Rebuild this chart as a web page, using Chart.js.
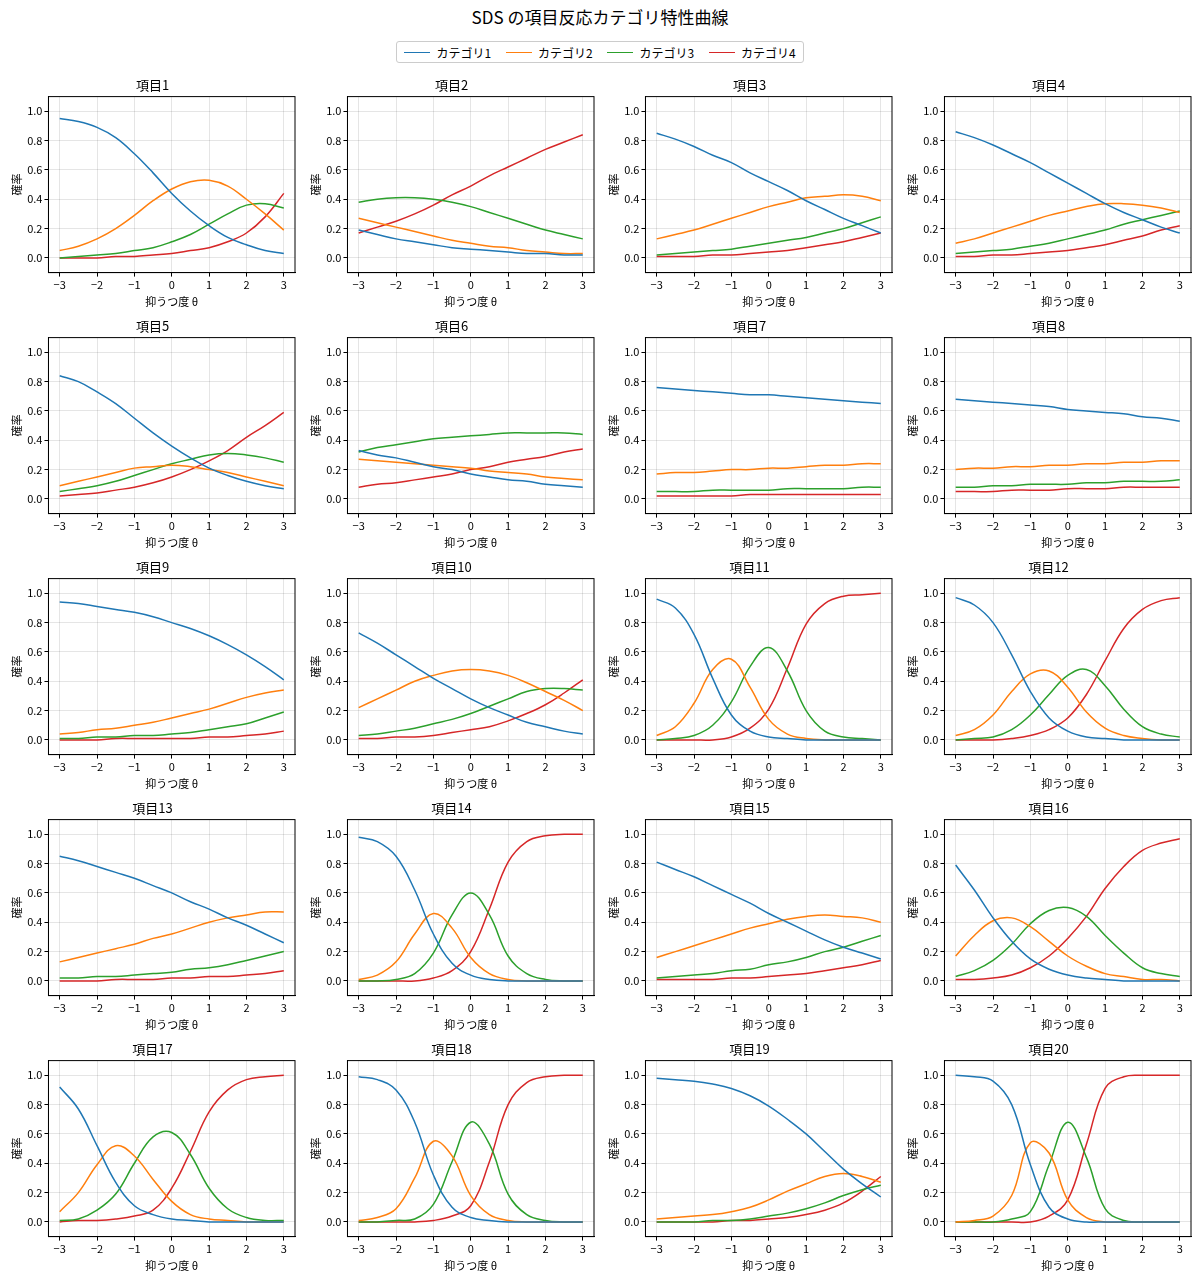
<!DOCTYPE html>
<html><head><meta charset="utf-8">
<script src="https://cdn.jsdelivr.net/npm/chart.js@4.4.1/dist/chart.umd.min.js"></script>
<style>
body{margin:0;background:#fff;font-family:"Noto Sans CJK JP","DejaVu Sans",sans-serif;}
#wrap{position:relative;width:1200px;height:1279px;}
#title{position:absolute;top:4px;left:0;width:1200px;text-align:center;font-size:17px;color:#000;}
#legend{position:absolute;top:41px;left:396px;width:406px;height:20px;border:1px solid #ccc;border-radius:3px;font-size:12px;display:flex;align-items:center;justify-content:space-around;}
#legend span{display:inline-flex;align-items:center;}
#legend i{display:inline-block;width:26px;height:0;border-top:1.6px solid;margin-right:6px;}
canvas{position:absolute;}
</style></head><body>
<div id="wrap">
<div id="title">SDS の項目反応カテゴリ特性曲線</div>
<div id="legend"></div>
</div>
<script>
const thetas = [-3,-2.5,-2,-1.5,-1,-0.5,0,0.5,1,1.5,2,2.5,3];
const categories = ["カテゴリ1","カテゴリ2","カテゴリ3","カテゴリ4"];
const colors = ["#1f77b4","#ff7f0e","#2ca02c","#d62728"];
const xTicks = [-3,-2,-1,0,1,2,3];
const yTicks = [0,0.2,0.4,0.6,0.8,1.0];

const item1 = [[.95,.93,.89,.82,.71,.58,.44,.32,.22,.14,.09,.05,.03],[.05,.08,.13,.20,.29,.39,.47,.52,.53,.49,.40,.30,.19],[0,.01,.02,.03,.05,.07,.11,.16,.23,.30,.36,.37,.34],[0,0,0,.01,.01,.02,.03,.05,.07,.11,.17,.28,.44]];
const item2 = [[.19,.16,.13,.11,.09,.07,.06,.05,.04,.03,.03,.02,.02],[.27,.24,.21,.18,.15,.12,.10,.08,.07,.05,.04,.03,.03],[.38,.40,.41,.41,.40,.38,.35,.31,.27,.23,.19,.16,.13],[.17,.21,.25,.30,.36,.43,.49,.56,.62,.68,.74,.79,.84]];
const item3 = [[.85,.81,.76,.70,.65,.58,.52,.46,.39,.33,.27,.22,.17],[.13,.16,.19,.23,.27,.31,.35,.38,.41,.42,.43,.42,.39],[.02,.03,.04,.05,.06,.08,.10,.12,.14,.17,.20,.24,.28],[.01,.01,.01,.02,.02,.03,.04,.05,.07,.09,.11,.14,.17]];
const item4 = [[.86,.82,.77,.71,.65,.58,.51,.44,.37,.31,.26,.21,.17],[.10,.13,.17,.21,.25,.29,.32,.35,.37,.37,.36,.34,.31],[.03,.04,.05,.06,.08,.10,.13,.16,.19,.23,.26,.29,.32],[.01,.01,.02,.02,.03,.04,.05,.07,.09,.12,.15,.19,.22]];
const item5 = [[.84,.80,.73,.65,.55,.45,.36,.28,.21,.16,.12,.09,.07],[.09,.12,.15,.18,.21,.22,.23,.22,.20,.18,.15,.12,.09],[.05,.07,.09,.12,.16,.20,.24,.27,.30,.31,.30,.28,.25],[.02,.03,.04,.06,.08,.11,.15,.20,.26,.33,.42,.50,.59]];
const item6 = [[.33,.30,.28,.25,.22,.20,.17,.15,.13,.12,.10,.09,.08],[.27,.26,.25,.24,.23,.22,.21,.19,.18,.17,.15,.14,.13],[.32,.35,.37,.39,.41,.42,.43,.44,.45,.45,.45,.45,.44],[.08,.10,.11,.13,.15,.17,.20,.22,.25,.27,.29,.32,.34]];
const item7 = [[.76,.75,.74,.73,.72,.71,.71,.70,.69,.68,.67,.66,.65],[.17,.18,.18,.19,.20,.20,.21,.21,.22,.23,.23,.24,.24],[.05,.05,.05,.06,.06,.06,.06,.07,.07,.07,.07,.08,.08],[.02,.02,.02,.02,.02,.03,.03,.03,.03,.03,.03,.03,.03]];
const item8 = [[.68,.67,.66,.65,.64,.63,.61,.60,.59,.58,.56,.55,.53],[.20,.21,.21,.22,.22,.23,.23,.24,.24,.25,.25,.26,.26],[.08,.08,.09,.09,.10,.10,.10,.11,.11,.12,.12,.12,.13],[.05,.05,.05,.06,.06,.06,.07,.07,.07,.08,.08,.08,.08]];
const item9 = [[.94,.93,.91,.89,.87,.84,.80,.76,.71,.65,.58,.50,.41],[.04,.05,.07,.08,.10,.12,.15,.18,.21,.25,.29,.32,.34],[.01,.01,.02,.02,.03,.03,.04,.05,.07,.09,.11,.15,.19],[0,0,0,.01,.01,.01,.01,.01,.02,.02,.03,.04,.06]];
const item10 = [[.73,.66,.58,.50,.42,.35,.28,.22,.17,.12,.09,.06,.04],[.22,.28,.34,.40,.44,.47,.48,.47,.44,.39,.33,.27,.20],[.03,.04,.06,.08,.11,.14,.18,.23,.28,.33,.35,.35,.34],[.01,.01,.02,.02,.03,.05,.07,.09,.13,.18,.24,.32,.41]];
const item11 = [[.96,.90,.72,.42,.17,.06,.02,.01,0,0,0,0,0],[.03,.09,.25,.48,.55,.36,.14,.04,.01,0,0,0,0],[0,.01,.03,.10,.26,.50,.63,.47,.20,.06,.02,.01,0],[0,0,0,0,.02,.08,.21,.49,.79,.93,.98,.99,1]];
const item12 = [[.97,.92,.80,.58,.33,.15,.06,.02,.01,0,0,0,0],[.03,.07,.17,.33,.45,.47,.36,.19,.08,.03,.01,0,0],[0,.01,.02,.07,.17,.31,.44,.48,.37,.21,.09,.04,.02],[0,0,0,.01,.03,.07,.15,.31,.54,.76,.89,.95,.97]];
const item13 = [[.85,.82,.78,.74,.70,.65,.60,.54,.49,.43,.38,.32,.26],[.13,.16,.19,.22,.25,.29,.32,.36,.40,.43,.45,.47,.47],[.02,.02,.03,.03,.04,.05,.06,.08,.09,.11,.14,.17,.20],[0,0,0,.01,.01,.01,.02,.02,.03,.03,.04,.05,.07]];
const item14 = [[.98,.95,.85,.62,.32,.12,.04,.01,0,0,0,0,0],[.01,.04,.13,.32,.46,.36,.16,.05,.01,0,0,0,0],[0,0,.01,.05,.19,.45,.60,.45,.17,.05,.01,0,0],[0,0,0,0,.02,.07,.20,.49,.81,.95,.99,1,1]];
const item15 = [[.81,.76,.71,.65,.59,.53,.46,.40,.34,.28,.23,.19,.15],[.16,.20,.24,.28,.32,.36,.39,.42,.44,.45,.44,.43,.40],[.02,.03,.04,.05,.07,.08,.11,.13,.16,.20,.23,.27,.31],[.01,.01,.01,.01,.02,.02,.03,.04,.05,.07,.09,.11,.14]];
const item16 = [[.79,.62,.43,.27,.15,.08,.04,.02,.01,0,0,0,0],[.17,.31,.41,.43,.37,.27,.17,.10,.05,.03,.01,.01,0],[.03,.07,.14,.25,.39,.48,.50,.44,.31,.19,.09,.05,.03],[.01,.01,.02,.04,.09,.17,.29,.44,.63,.78,.89,.94,.97]];
const item17 = [[.92,.77,.52,.27,.11,.05,.02,.01,0,0,0,0,0],[.07,.20,.39,.52,.45,.29,.14,.05,.02,.01,0,0,0],[.01,.02,.08,.19,.40,.58,.61,.46,.23,.09,.03,.01,.01],[0,.01,.01,.02,.04,.08,.23,.48,.75,.90,.97,.99,1]];
const item18 = [[.99,.97,.90,.68,.32,.10,.03,.01,0,0,0,0,0],[.01,.03,.09,.30,.55,.45,.18,.05,.01,0,0,0,0],[0,0,.01,.02,.12,.41,.68,.53,.19,.05,.01,0,0],[0,0,0,0,.01,.04,.11,.41,.80,.95,.99,1,1]];
const item19 = [[.98,.97,.96,.94,.91,.86,.79,.70,.60,.48,.36,.26,.17],[.02,.03,.04,.05,.07,.10,.15,.21,.26,.31,.33,.31,.27],[0,0,0,.01,.01,.02,.04,.06,.09,.13,.18,.22,.25],[0,0,0,0,.01,.01,.02,.03,.05,.08,.13,.21,.31]];
const item20 = [[1,.99,.96,.80,.39,.10,.02,0,0,0,0,0,0],[0,.01,.04,.18,.54,.47,.15,.03,0,0,0,0,0],[0,0,0,.02,.07,.39,.68,.44,.09,.01,0,0,0],[0,0,0,0,0,.04,.15,.53,.91,.99,1,1,1]];
const items = [item1,item2,item3,item4,item5,item6,item7,item8,item9,item10,item11,item12,item13,item14,item15,item16,item17,item18,item19,item20];

const legend = document.getElementById('legend');
categories.forEach((c,i)=>{
  const s=document.createElement('span');
  s.innerHTML='<i style="border-color:'+colors[i]+'"></i>'+c;
  legend.appendChild(s);
});

const FONT = '"Noto Sans CJK JP","DejaVu Sans",sans-serif';
Chart.defaults.font.family = FONT;
Chart.defaults.color = '#000';

const frame = {
  id:'frame',
  afterDraw(chart){
    const a=chart.chartArea, ctx=chart.ctx;
    ctx.save(); ctx.strokeStyle='#000'; ctx.lineWidth=1;
    ctx.strokeRect(a.left,a.top,a.right-a.left,a.bottom-a.top);
    ctx.restore();
  }
};

const wrap = document.getElementById('wrap');
items.forEach((item,k)=>{
  const r=Math.floor(k/4), c=k%4;
  const cv=document.createElement('canvas');
  const W=298, H=241;
  cv.style.left=(c*298.5)+'px';
  cv.style.top=(67+r*241)+'px';
  cv.style.width=W+'px'; cv.style.height=H+'px';
  cv.width=W; cv.height=H;
  wrap.appendChild(cv);
  new Chart(cv,{
    type:'line',
    data:{datasets:item.map((vals,i)=>({
      label:categories[i],
      data:vals.map((v,j)=>({x:thetas[j],y:v})),
      borderColor:colors[i],borderWidth:1.5,pointRadius:0,
      tension:0.4,fill:false
    }))},
    options:{
      responsive:false,animation:false,
      layout:{padding:{left:10,right:3,top:0,bottom:0}},
      plugins:{legend:{display:false},tooltip:{enabled:false},
        title:{display:true,text:'項目'+(k+1),font:{size:13,weight:'normal'},padding:{top:10,bottom:4}}},
      scales:{
        x:{type:'linear',min:-3.3,max:3.3,
          afterBuildTicks(ax){ax.ticks=xTicks.map(v=>({value:v}));},
          ticks:{font:{size:11},padding:2,callback:v=>String(v).replace('-','−')},
          grid:{color:'rgba(0,0,0,0.1)',tickLength:4,tickColor:'#000'},
          border:{color:'#000'},
          title:{display:true,text:'抑うつ度 θ',font:{size:11},padding:{top:1,bottom:0}}},
        y:{min:-0.1,max:1.1,
          afterBuildTicks(ax){ax.ticks=yTicks.map(v=>({value:v}));},
          ticks:{font:{size:11},padding:2,callback:v=>v.toFixed(1)},
          grid:{color:'rgba(0,0,0,0.1)',tickLength:4,tickColor:'#000'},
          border:{color:'#000'},
          title:{display:true,text:'確率',font:{size:11},padding:{top:0,bottom:2}}}
      }
    },
    plugins:[frame]
  });
});
</script>
</body></html>
